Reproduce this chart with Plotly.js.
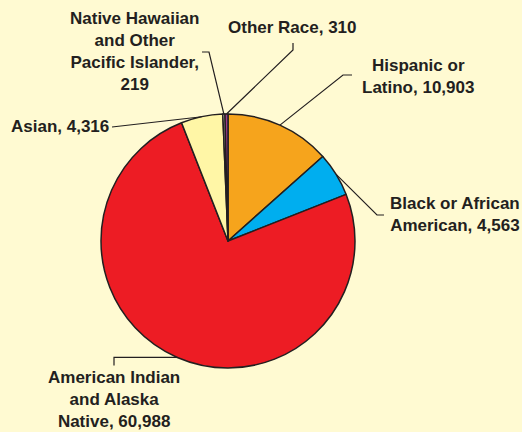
<!DOCTYPE html>
<html>
<head>
<meta charset="utf-8">
<script src="https://cdn.plot.ly/plotly-3.0.1.min.js"></script>
<style>html,body{margin:0;padding:0;background:#FFFAD2;}#chart{width:522px;height:432px;}</style>
</head>
<body>
<div id="chart"></div>
<script>
// ---- data ----
const categories = ["Hispanic or Latino", "Black or African American", "American Indian and Alaska Native", "Asian", "Native Hawaiian and Other Pacific Islander", "Other Race"];
const values = [10903, 4563, 60988, 4316, 219, 310];
const labelTexts = ["Hispanic or<br>Latino, 10,903", "Black or African<br>American, 4,563", "American Indian<br>and Alaska<br>Native, 60,988", "Asian, 4,316", "Native Hawaiian<br>and Other<br>Pacific Islander,<br>219", "Other Race, 310"];
const colors = ["#F6A41C", "#00AEEF", "#ED1C24", "#FFF6A6", "#FFFDF0", "#9B3C8C"];

// ---- layout (pixels) ----
const W = 522, H = 432;
const cx = 228, cy = 241, R = 127;
// label placement: text anchor point, elbow point, line end near text
const labelLayout = [
  {tx: 418, ty: 76, xa: "center", elbow: [343, 75], end: [352, 75]},
  {tx: 455, ty: 215, xa: "center", elbow: [377, 215], end: [384, 215]},
  {tx: 114, ty: 399, xa: "center", elbowFn: (p) => [114, p[1]], endFn: (p) => [114, p[1] + 8]},
  {tx: 111, ty: 127, xa: "right", elbow: null, end: [112, 127]},
  {tx: 134, ty: 52, xa: "center", elbow: [209, 52], end: [202, 52]},
  {tx: 292, ty: 28, xa: "center", elbow: [293, 50], end: [293, 43]}
];

const px = (x) => x / W;
const py = (y) => 1 - y / H;

const total = values.reduce((a, b) => a + b, 0);
let cum = 0;
const shapes = [];
const annotations = [];
values.forEach((v, i) => {
  const mid = (cum + v / 2) / total * 2 * Math.PI;
  cum += v;
  const edge = [cx + R * Math.sin(mid), cy - R * Math.cos(mid)];
  const L = labelLayout[i];
  const elbow = L.elbowFn ? L.elbowFn(edge) : L.elbow;
  const end = L.endFn ? L.endFn(edge) : L.end;
  let pts = [edge];
  if (elbow) pts.push(elbow);
  pts.push(end);
  const path = pts.map((p, k) => (k ? "L" : "M") + px(p[0]).toFixed(5) + "," + py(p[1]).toFixed(5)).join(" ");
  shapes.push({type: "path", xref: "paper", yref: "paper", path: path, line: {color: "#231F20", width: 1.2}});
  annotations.push({
    xref: "paper", yref: "paper", x: px(L.tx), y: py(L.ty),
    xanchor: L.xa, yanchor: "middle", align: "center",
    text: "<b>" + labelTexts[i] + "</b>", showarrow: false,
    font: {family: "Liberation Sans, Arial, sans-serif", size: 17, color: "#231F20"}
  });
});

const trace = {
  type: "pie",
  labels: categories,
  values: values,
  sort: false,
  direction: "clockwise",
  rotation: 0,
  textinfo: "none",
  hoverinfo: "label+value",
  marker: {colors: colors, line: {color: "#231F20", width: 1.5}},
  domain: {x: [101 / W, 355 / W], y: [py(368), py(114)]},
  showlegend: false
};

const layout = {
  width: W, height: H,
  margin: {l: 0, r: 0, t: 0, b: 0},
  paper_bgcolor: "#FFFAD2",
  plot_bgcolor: "#FFFAD2",
  showlegend: false,
  shapes: shapes,
  annotations: annotations
};

Plotly.newPlot("chart", [trace], layout, {displayModeBar: false, staticPlot: true});
</script>
</body>
</html>
